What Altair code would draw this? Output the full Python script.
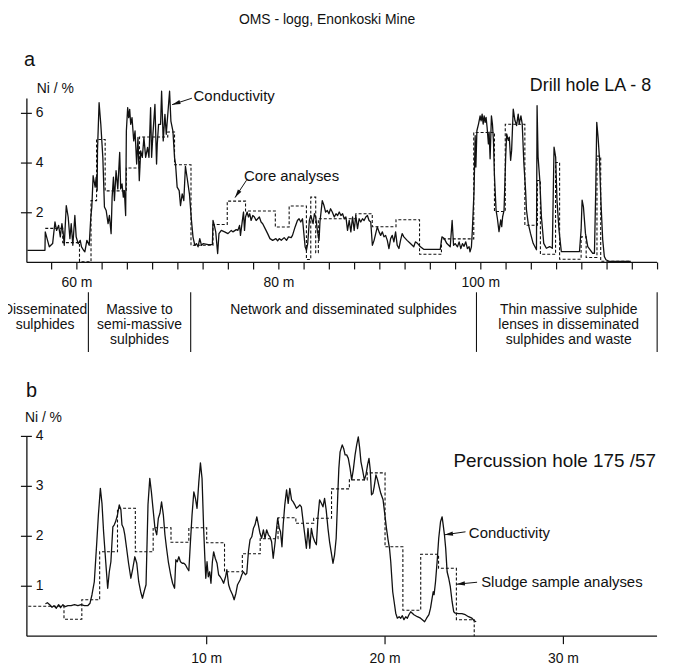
import math
import altair as alt
import pandas as pd

# ---------------- texts ----------------
TITLE = "OMS - logg, Enonkoski Mine"
PANEL_A = "a"
PANEL_B = "b"
Y_TITLE = "Ni / %"
HOLE_A = "Drill hole LA - 8"
HOLE_B = "Percussion hole 175 /57"
LBL_COND = "Conductivity"
LBL_CORE = "Core analyses"
LBL_SLUDGE = "Sludge sample analyses"

# ---------------- panel a : drill hole LA-8 ----------------
a_cond = [
    (55.1, 0.49), (56.84, 0.49), (56.87, 1.23), (57.27, 0.63), (57.6, 0.76), (57.83, 1.63),
    (57.99, 1.29), (58.19, 1.49), (58.36, 1.03), (58.52, 1.56), (58.65, 1.16), (58.75, 0.69),
    (58.95, 2.29), (59.14, 1.83), (59.31, 0.96), (59.44, 1.56), (59.6, 0.69), (59.8, 1.89),
    (59.93, 1.03), (60.13, 0.76), (60.33, 0.89), (60.46, 0.63), (60.66, 0.49), (60.79, 0.43),
    (60.99, 0.89), (61.22, 0.69), (61.38, 1.83), (61.48, 2.23), (61.61, 3.49), (61.81, 3.03),
    (61.91, 3.43), (62.01, 2.89), (62.04, 4.49), (62.2, 6.43), (62.37, 5.56), (62.57, 4.23),
    (62.73, 2.23), (62.9, 2.09), (63.09, 1.56), (63.22, 1.89), (63.39, 1.16), (63.49, 2.63),
    (63.62, 3.43), (63.72, 2.49), (63.88, 3.69), (64.05, 2.96), (64.24, 4.43), (64.34, 2.96),
    (64.47, 3.16), (64.6, 2.63), (64.7, 2.89), (64.83, 1.89), (64.9, 5.29), (65.03, 6.23),
    (65.13, 5.83), (65.23, 6.16), (65.33, 5.56), (65.46, 5.83), (65.63, 4.89), (65.76, 5.29),
    (65.92, 3.96), (66.05, 5.03), (66.18, 3.29), (66.32, 4.49), (66.48, 4.23), (66.64, 5.03),
    (66.81, 4.23), (67.0, 4.63), (67.14, 4.23), (67.3, 6.23), (67.4, 4.23), (67.53, 5.16),
    (67.73, 6.36), (67.89, 3.96), (67.96, 4.76), (68.09, 5.56), (68.29, 5.56), (68.39, 6.89),
    (68.55, 4.89), (68.72, 5.96), (68.85, 5.16), (69.18, 6.89), (69.31, 5.69), (69.51, 5.29),
    (69.67, 4.23), (69.77, 3.96), (69.93, 3.03), (70.13, 2.89), (70.26, 2.29), (70.43, 2.76),
    (70.59, 2.49), (70.75, 3.87), (70.92, 3.4), (71.15, 2.74), (71.35, 1.68), (71.5, 1.02),
    (71.68, 0.69), (71.84, 0.76), (72.0, 0.63), (72.17, 0.96), (72.34, 0.69), (72.5, 0.76),
    (73.0, 0.72), (73.42, 0.72), (73.48, 1.69), (73.61, 1.49), (73.75, 1.23), (73.94, 0.36),
    (74.07, 1.16), (74.3, 1.29), (74.63, 1.23), (74.96, 1.16), (75.29, 1.29), (75.45, 1.23),
    (75.78, 1.32), (75.94, 1.29), (76.11, 1.49), (76.2, 1.09), (76.37, 1.63), (76.5, 2.03),
    (76.6, 1.29), (76.7, 1.83), (76.86, 2.03), (76.99, 1.83), (77.12, 1.96), (77.25, 1.69),
    (77.42, 1.89), (77.58, 1.83), (77.75, 1.69), (77.91, 1.76), (78.07, 1.83), (78.24, 1.63),
    (78.4, 1.56), (78.73, 1.29), (78.89, 1.16), (79.12, 0.96), (79.39, 0.89), (79.71, 0.96),
    (79.88, 0.87), (80.04, 0.96), (80.24, 0.89), (80.53, 1.0), (80.76, 0.89), (80.96, 1.03),
    (81.22, 1.0), (81.35, 1.09), (81.61, 1.43), (81.84, 1.69), (82.0, 1.76), (82.17, 1.63),
    (82.34, 1.76), (82.6, 0.63), (82.73, 0.49), (82.86, 0.76), (83.02, 1.69), (83.16, 1.89),
    (83.39, 1.56), (83.52, 1.96), (83.65, 1.83), (83.81, 1.29), (83.98, 0.89), (84.07, 1.63),
    (84.3, 2.49), (84.47, 2.29), (84.63, 2.03), (84.8, 2.09), (84.96, 1.96), (85.12, 2.16),
    (85.29, 2.03), (85.49, 1.83), (85.66, 1.96), (85.82, 1.89), (85.98, 2.03), (86.15, 1.89),
    (86.31, 1.96), (86.48, 1.76), (86.64, 1.83), (86.8, 1.29), (86.97, 1.69), (87.13, 1.23),
    (87.3, 1.83), (87.46, 1.29), (87.62, 1.89), (87.79, 1.36), (87.95, 1.76), (88.11, 1.63),
    (88.28, 1.76), (88.44, 1.69), (88.61, 1.83), (88.77, 1.89), (88.93, 1.69), (89.1, 1.63),
    (89.26, 0.69), (89.43, 0.89), (89.59, 1.16), (89.75, 1.43), (89.92, 1.23), (90.08, 1.09),
    (90.25, 1.23), (90.41, 1.03), (90.57, 1.09), (90.74, 0.89), (90.9, 0.56), (91.07, 0.96),
    (91.23, 1.09), (91.39, 0.83), (91.56, 1.23), (91.72, 0.69), (91.89, 0.56), (92.05, 0.89),
    (92.21, 1.16), (92.38, 1.03), (92.7, 0.89), (93.03, 0.76), (93.36, 0.63), (93.52, 0.83),
    (93.75, 0.76), (94.02, 0.63), (94.34, 0.53), (95.98, 0.53), (96.15, 1.03), (96.38, 0.96),
    (96.64, 0.76), (96.97, 0.63), (97.16, 1.69), (97.3, 0.69), (97.46, 0.76), (97.69, 0.63),
    (97.85, 0.83), (98.02, 0.56), (98.18, 0.76), (98.34, 0.65), (98.51, 0.83), (98.67, 0.56),
    (98.84, 0.63), (98.93, 0.43), (99.07, 0.63), (99.16, 1.29), (99.33, 2.89), (99.44, 5.1),
    (99.51, 3.84), (99.61, 5.3), (99.77, 5.57), (99.93, 5.9), (100.03, 5.7), (100.13, 5.97),
    (100.23, 5.57), (100.33, 5.9), (100.43, 5.64), (100.52, 5.84), (100.62, 5.44), (100.75, 4.77),
    (100.82, 5.24), (100.92, 4.17), (101.05, 5.9), (101.15, 5.57), (101.25, 4.91), (101.34, 3.57),
    (101.51, 2.1), (101.64, 1.77), (101.8, 1.24), (101.97, 1.71), (102.07, 1.44), (102.16, 1.84),
    (102.3, 2.1), (102.46, 4.24), (102.56, 5.17), (102.72, 4.91), (102.82, 5.04), (102.95, 4.11),
    (103.05, 4.51), (103.21, 6.17), (103.38, 5.71), (103.54, 5.51), (103.7, 5.97), (103.8, 5.57),
    (103.97, 5.9), (104.1, 5.57), (104.26, 4.0), (104.43, 2.91), (104.52, 2.11), (104.69, 1.57),
    (104.92, 1.17), (105.18, 0.77), (105.51, 0.51), (105.57, 6.31), (105.67, 4.24), (105.84, 3.31),
    (106.0, 1.84), (106.23, 0.77), (106.49, 0.57), (106.82, 0.64), (107.08, 0.57), (107.25, 4.64),
    (107.41, 4.24), (107.54, 2.51), (107.74, 1.31), (107.97, 0.44), (109.77, 0.44), (109.93, 1.31),
    (110.03, 2.51), (110.16, 2.24), (110.36, 1.17), (110.59, 0.64), (111.08, 0.37), (111.25, 0.37),
    (111.38, 2.91), (111.48, 5.64), (111.61, 5.04), (111.74, 4.24), (111.9, 2.37), (112.07, 0.91),
    (112.23, 0.24), (112.39, 0.11), (112.72, 0.04), (114.85, 0.04),
]
# core analyses: interval starts and Ni values (last start = end of last interval)
a_core_from = [56.87, 58.6, 60.26, 61.4, 61.95, 62.8, 64.9, 66.2, 69.0, 69.67, 71.3, 73.48,
               74.89, 76.7, 79.65, 81.02, 82.73, 83.16, 83.65, 83.91, 87.62, 89.25, 91.6, 93.93,
               96.1, 99.3, 101.35, 102.42, 104.36, 105.6, 105.9, 107.4, 107.8, 109.93, 110.43,
               111.5, 111.87, 114.85]
a_core_ni = [1.37, 0.8, 0.03, 2.49, 4.95, 2.88, 3.8, 5.05, 5.25, 3.93, 0.69, 1.53, 2.47, 2.07,
             1.43, 2.27, 0.12, 2.63, 0.39, 1.76, 1.96, 1.44, 1.72, 0.33, 0.95, 5.23, 2.05, 5.56,
             1.5, 3.3, 0.33, 4.02, 0.13, 1.03, 0.2, 4.28, 0.05]
a_xticks = [57.5, 60, 62.5, 65, 67.5, 70, 72.5, 75, 77.5, 80, 82.5, 85, 87.5, 90, 92.5, 95,
            97.5, 100, 102.5, 105, 107.5, 110, 112.5, 115, 117.5]
a_xlabels = [60, 80, 100]
a_yticks = [2, 4, 6]

zone_bounds = [61.14, 71.27, 99.57, 117.46]
zone_label_depth = [56.85, 66.2, 86.4, 108.7]
zone_labels = ["Disseminated\nsulphides",
               "Massive to\nsemi-massive\nsulphides",
               "Network and disseminated sulphides",
               "Thin massive sulphide\nlenses in disseminated\nsulphides and waste"]

# ---------------- panel b : percussion hole 175/57 ----------------
b_cond = [
    (0.96, 0.65), (1.07, 0.67), (1.2, 0.63), (1.33, 0.58), (1.44, 0.61), (1.57, 0.56), (1.7, 0.63),
    (1.81, 0.57), (1.94, 0.63), (2.07, 0.59), (2.22, 0.61), (2.4, 0.61), (2.59, 0.63), (2.78, 0.61),
    (2.96, 0.63), (3.15, 0.61), (3.33, 0.61), (3.46, 0.66), (3.57, 0.83), (3.7, 1.09), (3.83, 1.83),
    (3.93, 2.43), (4.04, 2.96), (4.13, 2.66), (4.22, 2.09), (4.34, 1.49), (4.45, 0.96), (4.54, 1.29),
    (4.63, 1.49), (4.74, 2.19), (4.82, 2.23), (4.89, 2.29), (5.0, 2.43), (5.1, 2.63), (5.19, 2.53),
    (5.25, 2.23), (5.34, 2.16), (5.41, 2.03), (5.51, 1.76), (5.62, 1.46), (5.75, 1.16), (5.86, 1.36),
    (5.97, 1.59), (6.08, 1.46), (6.19, 1.09), (6.3, 0.89), (6.4, 0.76), (6.49, 0.89), (6.6, 1.03),
    (6.71, 2.63), (6.81, 3.16), (6.9, 2.89), (6.99, 2.56), (7.1, 2.16), (7.2, 2.03), (7.29, 2.36),
    (7.38, 2.46), (7.47, 2.69), (7.57, 2.43), (7.66, 2.03), (7.75, 1.76), (7.85, 1.49), (7.98, 1.23),
    (8.09, 1.06), (8.2, 0.96), (8.27, 1.53), (8.35, 1.49), (8.44, 1.59), (8.53, 1.49), (8.63, 1.46),
    (8.72, 1.46), (8.81, 1.43), (8.91, 1.36), (9.0, 1.31), (9.09, 1.89), (9.18, 2.43), (9.28, 2.89),
    (9.37, 2.76), (9.46, 2.56), (9.56, 3.09), (9.65, 3.47), (9.74, 3.16), (9.83, 2.16), (9.89, 1.63),
    (9.95, 1.16), (10.02, 1.49), (10.09, 1.19), (10.17, 1.29), (10.24, 1.06), (10.32, 1.49),
    (10.39, 1.69), (10.48, 1.56), (10.58, 1.46), (10.67, 1.23), (10.76, 1.19), (10.86, 1.13),
    (10.95, 1.06), (11.06, 1.19), (11.13, 1.33), (11.23, 1.03), (11.32, 0.93), (11.45, 0.83),
    (11.54, 0.73), (11.64, 0.86), (11.73, 1.03), (11.88, 1.13), (11.97, 1.23), (12.06, 1.29),
    (12.17, 1.23), (12.25, 1.26), (12.34, 1.69), (12.43, 1.93), (12.53, 1.99), (12.62, 2.16),
    (12.71, 2.23), (12.81, 2.39), (12.9, 2.23), (12.99, 2.06), (13.08, 1.96), (13.18, 2.13),
    (13.27, 1.96), (13.36, 2.13), (13.46, 2.03), (13.55, 1.99), (13.64, 1.89), (13.73, 1.56),
    (13.83, 1.86), (13.92, 2.16), (13.98, 2.36), (14.07, 2.16), (14.14, 2.09), (14.22, 1.79),
    (14.29, 2.23), (14.38, 2.63), (14.48, 2.93), (14.57, 2.66), (14.66, 2.96), (14.76, 2.73),
    (14.85, 2.69), (14.94, 2.63), (15.03, 2.56), (15.13, 2.59), (15.22, 2.63), (15.31, 2.59),
    (15.41, 2.29), (15.5, 2.03), (15.59, 1.76), (15.68, 2.16), (15.78, 1.76), (15.87, 2.16),
    (15.96, 1.99), (16.06, 1.89), (16.15, 1.83), (16.24, 2.39), (16.33, 2.73), (16.43, 2.66),
    (16.52, 2.59), (16.61, 2.76), (16.7, 2.53), (16.8, 2.16), (16.89, 1.89), (16.98, 1.69),
    (17.08, 1.46), (17.17, 1.63), (17.26, 1.96), (17.35, 2.83), (17.41, 3.36), (17.48, 3.69),
    (17.6, 3.83), (17.68, 3.76), (17.76, 3.63), (17.85, 3.63), (17.94, 3.56), (18.04, 3.36),
    (18.13, 3.13), (18.22, 3.33), (18.32, 3.63), (18.41, 3.83), (18.5, 3.99), (18.58, 3.76),
    (18.65, 3.49), (18.74, 3.33), (18.84, 3.13), (18.93, 3.23), (19.02, 3.43), (19.1, 3.56),
    (19.17, 3.33), (19.24, 2.83), (19.32, 2.86), (19.39, 2.99), (19.49, 3.23), (19.58, 3.13),
    (19.67, 2.99), (19.76, 2.86), (19.89, 2.73), (19.99, 2.43), (20.08, 2.16), (20.17, 1.93),
    (20.25, 1.76), (20.32, 1.49), (20.38, 1.16), (20.43, 0.89), (20.51, 0.69), (20.6, 0.46),
    (20.69, 0.36), (20.79, 0.39), (20.88, 0.36), (20.97, 0.41), (21.06, 0.33), (21.16, 0.39),
    (21.25, 0.36), (21.34, 0.43), (21.44, 0.49), (21.53, 0.46), (21.62, 0.43), (21.81, 0.39),
    (21.99, 0.36), (22.09, 0.33), (22.22, 0.29), (22.33, 0.36), (22.46, 0.43), (22.55, 0.56),
    (22.64, 0.76), (22.7, 0.89), (22.75, 0.83), (22.83, 1.09), (22.92, 1.49), (23.01, 1.96),
    (23.11, 2.29), (23.2, 2.39), (23.26, 2.23), (23.33, 2.03), (23.4, 1.76), (23.48, 1.29),
    (23.57, 1.16), (23.66, 0.99), (23.76, 0.69), (23.85, 0.49), (23.94, 0.46), (24.13, 0.45),
    (24.31, 0.45), (24.5, 0.43), (24.68, 0.39), (24.87, 0.36), (25.0, 0.31), (25.11, 0.29),
]
sludge_from = [0, 2, 3, 4, 5, 6, 7, 8, 9, 10, 11, 12, 13, 14, 15, 16, 17, 18, 19, 20, 21, 22,
               23, 24, 25, 25]
sludge_ni = [0.6, 0.34, 0.73, 1.69, 2.56, 1.69, 2.17, 1.88, 2.17, 1.87, 1.29, 1.65, 1.95, 2.37,
             2.26, 2.36, 2.95, 3.13, 3.27, 1.79, 0.52, 1.64, 1.36, 0.33, 0.33, 0.0]
b_xticks = [10, 20, 30]
b_yticks = [1, 2, 3, 4]

# annotation arrows: (tail depth, tail Ni, tip depth, tip Ni)
a_arrows = [(71.39, 6.61, 69.43, 6.35), (76.8, 3.31, 75.66, 2.61)]
b_arrows = [(24.51, 2.09, 23.34, 2.03), (25.16, 1.08, 24.01, 1.04)]

# ---------------- layout / styling ----------------
W, H = 634, 541
XDOM = {"a": [55.05, 117.45], "b": [-0.08, 35.25]}
YDOM = {"a": [0, 6.6], "b": [0, 4]}
YRNG = {"a": [165, 0], "b": [541, 340]}
INK = "#111111"
FONT = "Liberation Sans, Arial, Helvetica, sans-serif"
ARROW = "M0,0 L-0.6,2.4 L0.6,2.4 Z"


def xs(p):
    return alt.Scale(domain=XDOM[p], range=[0, W], nice=False, zero=False)


def ys(p):
    return alt.Scale(domain=YDOM[p], range=YRNG[p], nice=False, zero=False)


def X(f, p):
    return alt.X(f, type="quantitative", scale=xs(p), axis=None)


def Y(f, p):
    return alt.Y(f, type="quantitative", scale=ys(p), axis=None)


def series(pairs, p, **mark):
    df = pd.DataFrame({"d": [q[0] for q in pairs], "v": [q[1] for q in pairs]})
    df["i"] = range(len(df))
    return alt.Chart(df).mark_line(color=INK, **mark).encode(
        x=X("d", p), y=Y("v", p), order=alt.Order("i:Q"))


def ptext(txt, x, y, size, align="left", baseline="alphabetic", **kw):
    return alt.Chart(pd.DataFrame({"t": [txt]})).mark_text(
        align=align, baseline=baseline, fontSize=size, font=FONT, color=INK, **kw
    ).encode(text="t:N", x=alt.value(x), y=alt.value(y))


def dtext(txt, d, v, p, size, align="left", baseline="alphabetic"):
    df = pd.DataFrame({"d": [d], "v": [v], "t": [txt]})
    return alt.Chart(df).mark_text(align=align, baseline=baseline, fontSize=size,
                                   font=FONT, color=INK).encode(
        x=X("d", p), y=Y("v", p), text="t:N")


def axes(p, xticks, xlabels, yticks, tick_len, label_dy):
    y0, y1 = YRNG[p]
    lay = []
    lay.append(alt.Chart(pd.DataFrame({"x1": [XDOM[p][0]], "x2": [XDOM[p][1]], "y": [0]}))
               .mark_rule(color=INK, strokeWidth=1.3)
               .encode(x=X("x1", p), x2="x2:Q", y=Y("y", p)))
    lay.append(alt.Chart(pd.DataFrame({"x": [XDOM[p][0]], "y1": [YDOM[p][0]], "y2": [YDOM[p][1]]}))
               .mark_rule(color=INK, strokeWidth=1.3)
               .encode(x=X("x", p), y=Y("y1", p), y2="y2:Q"))
    lay.append(alt.Chart(pd.DataFrame({"t": xticks})).mark_rule(color=INK, strokeWidth=1.2)
               .encode(x=X("t", p), y=alt.value(y0), y2=alt.value(y0 + tick_len)))
    lay.append(alt.Chart(pd.DataFrame({"t": xlabels, "s": [f"{v} m" for v in xlabels]}))
               .mark_text(fontSize=14, font=FONT, color=INK, baseline="middle")
               .encode(x=X("t", p), y=alt.value(y0 + label_dy), text="s:N"))
    lay.append(alt.Chart(pd.DataFrame({"t": yticks})).mark_rule(color=INK, strokeWidth=1.2)
               .encode(y=Y("t", p), x=alt.value(-6), x2=alt.value(5)))
    lay.append(alt.Chart(pd.DataFrame({"t": yticks, "s": [str(v) for v in yticks]}))
               .mark_text(fontSize=14, font=FONT, color=INK, align="left", baseline="middle")
               .encode(y=Y("t", p), x=alt.value(9), text="s:N"))
    return lay


def arrows(rows, p):
    kx = W / (XDOM[p][1] - XDOM[p][0])
    ky = abs(YRNG[p][0] - YRNG[p][1]) / (YDOM[p][1] - YDOM[p][0])
    recs = []
    for (td, tv, hd, hv) in rows:
        dx = (hd - td) * kx
        dy = -(hv - tv) * ky
        ang = math.degrees(math.atan2(dx, -dy)) % 360
        recs.append({"td": td, "tv": tv, "hd": hd, "hv": hv, "ang": ang})
    df = pd.DataFrame(recs)
    line = alt.Chart(df).mark_rule(color=INK, strokeWidth=1).encode(
        x=X("td", p), x2="hd:Q", y=Y("tv", p), y2="hv:Q")
    head = alt.Chart(df).mark_point(shape=ARROW, filled=True, color=INK, size=49, opacity=1,
                                    strokeWidth=0).encode(
        x=X("hd", p), y=Y("hv", p), angle=alt.Angle("ang:Q", scale=None))
    return [line, head]


layers = []
# ---- panel a
layers += axes("a", a_xticks, a_xlabels, a_yticks, 7, 21)
layers.append(series(list(zip(a_core_from, a_core_ni + [a_core_ni[-1]])), "a",
                     interpolate="step-after", strokeDash=[3, 2], strokeWidth=1.1))
layers.append(series(a_cond, "a", strokeWidth=1.3, strokeJoin="round"))
layers += arrows(a_arrows, "a")
layers.append(dtext(LBL_COND, 71.56, 6.48, "a", 15))
layers.append(dtext(LBL_CORE, 76.54, 3.28, "a", 15))
layers.append(ptext(TITLE, 302, -75, 14, align="center"))
layers.append(ptext(PANEL_A, -3, -33, 20))
layers.append(ptext(Y_TITLE, 10, -5, 14))
layers.append(ptext(HOLE_A, 628, -8, 18, align="right"))
# zones
layers.append(alt.Chart(pd.DataFrame({"z": zone_bounds})).mark_rule(color=INK, strokeWidth=1.1)
              .encode(x=X("z", "a"), y=alt.value(195), y2=alt.value(255)))
layers.append(alt.Chart(pd.DataFrame({"z": zone_label_depth, "s": zone_labels}))
              .mark_text(fontSize=14, font=FONT, color=INK, baseline="top", lineBreak="\n",
                         lineHeight=15, align="center")
              .encode(x=X("z", "a"), y=alt.value(206), text="s:N"))

# ---- panel b
layers += axes("b", b_xticks, b_xticks, b_yticks, 8, 23)
layers.append(series(list(zip(sludge_from, sludge_ni)), "b",
                     interpolate="step-after", strokeDash=[3, 2], strokeWidth=1.1))
layers.append(series(b_cond, "b", strokeWidth=1.3, strokeJoin="round"))
layers += arrows(b_arrows, "b")
layers.append(dtext(LBL_COND, 24.7, 1.96, "b", 15))
layers.append(dtext(LBL_SLUDGE, 25.39, 0.98, "b", 15))
layers.append(ptext(PANEL_B, -1, 300, 20))
layers.append(ptext(Y_TITLE, -2, 326, 14))
layers.append(ptext(HOLE_B, 633, 371, 19, align="right"))

chart = alt.layer(*layers).resolve_scale(x="independent", y="independent").properties(
    width=W, height=H,
    autosize=alt.AutoSizeParams(type="none"),
    padding={"left": 19, "top": 89, "right": 8, "bottom": 30},
    background="white",
).configure_view(strokeWidth=0)

chart.save("out.html", embed_options={"renderer": "svg", "actions": False})
